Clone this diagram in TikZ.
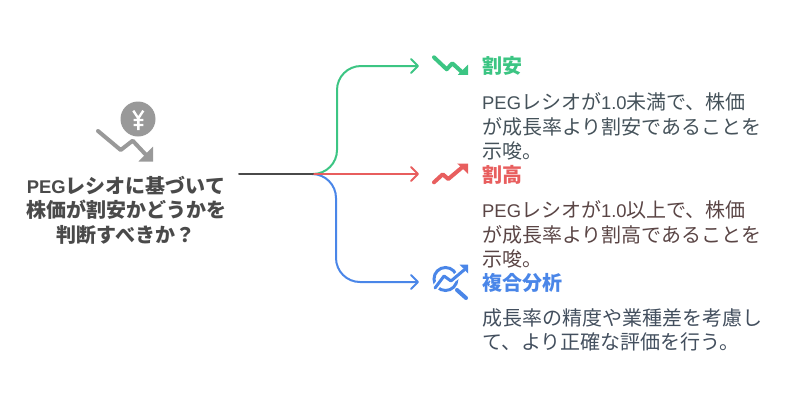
\documentclass[tikz,border=0pt]{standalone}
\usepackage{fontspec}
\setmainfont{Noto Sans CJK JP}
\newfontfamily\latinfont[Scale=0.92]{Liberation Sans}
\usetikzlibrary{arrows.meta}
\definecolor{cheapgreen}{HTML}{3CC583}
\definecolor{highred}{HTML}{E85E5E}
\definecolor{mixblue}{HTML}{4A86E8}
\definecolor{iconGrey}{HTML}{999999}
\definecolor{inkGrey}{HTML}{4A4A4A}
\definecolor{cheapink}{HTML}{45525A}
\definecolor{highink}{HTML}{5A4545}
\definecolor{mixink}{HTML}{434F5E}
\tikzset{link/.style={line width=2pt, line cap=round, -{Straight Barb[length=7pt,width=14pt,round]}},
  head/.style={font=\fontsize{20}{24.5}\selectfont\bfseries, inner sep=0pt, anchor=west},
  body/.style={font=\fontsize{20}{24.5}\selectfont, inner sep=0pt, anchor=north west, align=left},
  trend/.style={line width=4pt, line cap=round, line join=round}}

\begin{document}
\begin{tikzpicture}[x=1pt,y=-1pt]
  \useasboundingbox (0,0) rectangle (792,402);
  % question
  \node[font=\fontsize{20}{24.5}\selectfont\bfseries, text=inkGrey, inner sep=0pt, align=center] (question) at (126,210)
    {{\latinfont PEG}レシオに基づいて\\株価が割安かどうかを\\判断すべきか？};
  % yen icon
  \node[circle, fill=iconGrey, minimum size=35pt, inner sep=0pt] (coin) at (138,119) {};
  \draw[white, line width=2.4pt] (133.3,110.7) -- (138.3,118.3) -- (143.3,110.7) (138.3,118.3) -- (138.3,130)
    (133.5,120) -- (143.3,120) (133.5,125) -- (143.3,125);
  \draw[trend, iconGrey] (98,131) -- (120.7,150) -- (132.7,140.7) -- (148,157);
  \fill[iconGrey] (153,146.5) -- (153,161.5) -- (138.5,161.5) -- cycle;
  % connectors
  \coordinate (start) at (239,174);
  \coordinate (fork) at (313,174);
  \coordinate (upbend) at (337,66);
  \coordinate (downbend) at (336,282);
  \coordinate (cheaptip) at (419,66);
  \coordinate (hightip) at (419,174);
  \coordinate (mixtip) at (419,282);
  \draw[link, cheapgreen, rounded corners=24pt] (fork) -| (upbend) -- (cheaptip);
  \draw[link, mixblue, rounded corners=24pt] (fork) -| (downbend) -- (mixtip);
  \draw[link, highred] (fork) -- (hightip);
  \draw[line width=2pt, inkGrey, line cap=round] (start) -- (fork);
  % cheap
  \draw[trend, cheapgreen] (434,57.3) -- (446.7,69.3) -- (452.3,63.3) -- (463,73);
  \fill[cheapgreen] (468,64.5) -- (468,74.8) -- (457.8,74.8) -- cycle;
  \node[head, text=cheapgreen] (cheap) at (482,65.5) {割安};
  \node[body, text=cheapink] (cheaptext) at (482,92.5) {{\latinfont PEG}レシオが{\latinfont 1.0}未満で、株価\\が成長率より割安であることを\\示唆。};
  % high
  \draw[trend, highred] (434,182.3) -- (442.7,174.3) -- (448.3,179) -- (461.7,167.7);
  \fill[highred] (468,163.5) -- (468,173.8) -- (457.2,163.5) -- cycle;
  \node[head, text=highred] (high) at (482,174.5) {割高};
  \node[body, text=highink] (hightext) at (482,200.5) {{\latinfont PEG}レシオが{\latinfont 1.0}以上で、株価\\が成長率より割高であることを\\示唆。};
  % mixed
  \draw[mixblue, line width=3pt] (445.5,279) circle (11.5);
  \draw[white, line width=6.5pt] (435,288) -- (444,276) -- (451,281) -- (464,270);
  \draw[mixblue, line width=3pt, line join=round, line cap=round] (435,288) -- (444,276) -- (451,281) -- (464,270);
  \fill[mixblue] (468,264.5) -- (468,273.5) -- (459.5,264.5) -- cycle;
  \draw[mixblue, line width=4pt, line cap=round] (457,290) -- (466,298);
  \node[head, text=mixblue] (mixed) at (482,282.5) {複合分析};
  \node[body, text=mixink] (mixedtext) at (482,308) {成長率の精度や業種差を考慮し\\て、より正確な評価を行う。};
\end{tikzpicture}
\end{document}
